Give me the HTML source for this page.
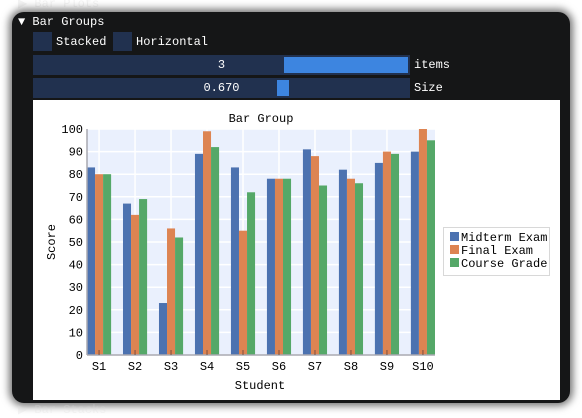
<!DOCTYPE html>
<html><head><meta charset="utf-8">
<style>
body{margin:0;width:582px;height:416px;background:#fff;position:relative;overflow:hidden;font-family:"Liberation Mono",monospace;font-size:12px;color:#fff}
.abs{position:absolute}
#frame{left:12px;top:12px;width:558px;height:391px;background:#151617;border-radius:12px;box-shadow:0 0 8px 3px rgba(0,0,0,0.55)}
.cb{background:#21314f;width:19px;height:19px}
.lbl{color:#fff;line-height:16px}
</style></head><body>
<div class="abs lbl" style="left:18px;top:-4px;color:#ddd;opacity:.35">▶ Bar Plots</div>
<div id="frame" class="abs"></div>
<div class="abs lbl" style="left:18px;top:14px">▼ Bar Groups</div>
<div class="abs cb" style="left:33px;top:32px"></div>
<div class="abs lbl" style="left:56px;top:34px">Stacked</div>
<div class="abs cb" style="left:113px;top:32px"></div>
<div class="abs lbl" style="left:136px;top:34px">Horizontal</div>
<div class="abs" style="left:33px;top:55px;width:377px;height:20px;background:#21314f">
  <div class="abs" style="left:251px;top:2px;width:124px;height:16px;background:#3d85e0"></div>
  <div class="abs lbl" style="left:0;width:377px;text-align:center;top:2px">3</div>
</div>
<div class="abs lbl" style="left:414px;top:57px">items</div>
<div class="abs" style="left:33px;top:78px;width:377px;height:20px;background:#21314f">
  <div class="abs" style="left:244px;top:2px;width:12px;height:16px;background:#3d85e0"></div>
  <div class="abs lbl" style="left:0;width:377px;text-align:center;top:2px">0.670</div>
</div>
<div class="abs lbl" style="left:414px;top:80px">Size</div>
<div class="abs" style="left:33px;top:100px;width:527px;height:300px;background:#fff"></div>
<div class="abs lbl" style="left:18px;top:402px;color:#ddd;opacity:.3">▶ Bar Stacks</div>
<svg class="abs" style="left:0;top:0" width="582" height="416" font-family="Liberation Mono, monospace" font-size="12">
<g id="g"></g>
</svg>
<script>
const categories=["S1","S2","S3","S4","S5","S6","S7","S8","S9","S10"];
const midterm=[83,67,23,89,83,78,91,82,85,90];
const finalExam=[80,62,56,99,55,78,88,78,90,100];
const course=[80,69,52,92,72,78,75,76,89,95];
const yTicks=[0,10,20,30,40,50,60,70,80,90,100];
const seriesNames=["Midterm Exam","Final Exam","Course Grade"];
const colors=["#4c72b0","#dd8452","#55a868"];
const NS="http://www.w3.org/2000/svg";
const g=document.getElementById('g');
const L=87,R=435,T=129,B=355;
const n=categories.length;
const xs=v=>L+(v+0.335)/(n-1+0.67)*(R-L);
const ys=v=>B-(v/100)*(B-T);
function mk(t,a,txt){const e=document.createElementNS(NS,t);for(const k in a)e.setAttribute(k,a[k]);if(txt!=null)e.textContent=txt;g.appendChild(e);return e;}
let e=mk('rect',{x:L,y:T,width:R-L,height:B-T,fill:'#eaf0fd'});


yTicks.forEach(v=>{const l=mk('line',{x1:L,x2:R,y1:ys(v),y2:ys(v),stroke:'#fff','stroke-width':1.5});


const t=mk('text',{x:L-4,y:ys(v)+4,'text-anchor':'end',fill:'#000'},String(v));

});
categories.forEach((c,i)=>{const l=mk('line',{x1:xs(i),x2:xs(i),y1:T,y2:B,stroke:'#fff','stroke-width':1.5});

});
const data=[midterm,finalExam,course];
const bw=0.67/3;
data.forEach((s,si)=>s.forEach((v,i)=>{const x0=xs(i-0.335+si*bw),x1=xs(i-0.335+(si+1)*bw);
const r=mk('rect',{x:x0,y:ys(v),width:x1-x0,height:B-ys(v),fill:colors[si]});

}));
mk('line',{x1:L,x2:R,y1:B,y2:B,stroke:'#a8a8b0','stroke-width':1.5});
mk('line',{x1:L,x2:L,y1:T,y2:B,stroke:'#a8a8b0','stroke-width':1.5});
categories.forEach((c,i)=>{mk('line',{x1:xs(i),x2:xs(i),y1:B-5,y2:B,stroke:'#7a5040'});
const t=mk('text',{x:xs(i),y:B+15,'text-anchor':'middle',fill:'#000'},c);

});
let t=mk('text',{x:261,y:122,'text-anchor':'middle',fill:'#000'},'Bar Group');


t=mk('text',{x:260,y:389,'text-anchor':'middle',fill:'#000'},'Student');


t=mk('text',{x:55,y:242,'text-anchor':'middle',fill:'#000',transform:'rotate(-90 55 242)'},'Score');


const lg=mk('rect',{x:443.5,y:227.5,width:106,height:48,fill:'#fff',stroke:'#d8d8d8'});


seriesNames.forEach((s,i)=>{const y=232+i*13;
const sw=mk('rect',{x:450,y:y,width:9,height:9,fill:colors[i]});


const tx=mk('text',{x:461,y:y+9,fill:'#000'},s);

});
</script>
</body></html>
